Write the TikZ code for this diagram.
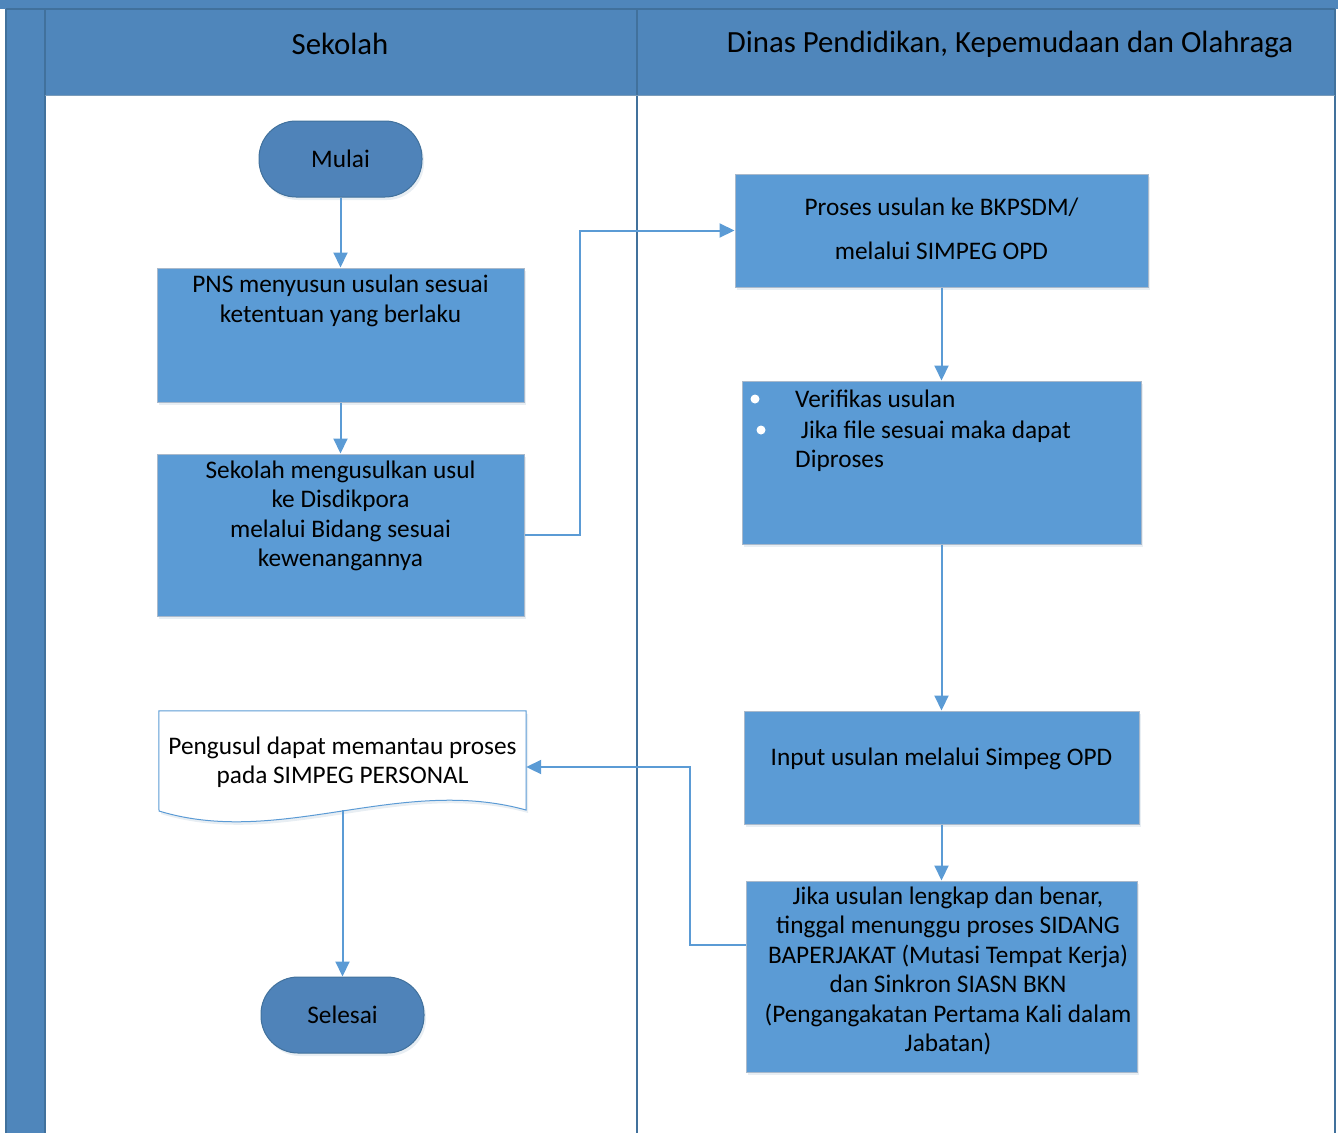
\documentclass[tikz,border=0pt]{standalone}
\usepackage{fontspec}
\setmainfont{Carlito}
\usetikzlibrary{arrows.meta,shadows}
\definecolor{hdr}{HTML}{4F86BB}
\definecolor{hdrline}{HTML}{41719C}
\definecolor{boxfill}{HTML}{5B9BD5}
\definecolor{boxline}{HTML}{A9B9CB}
\definecolor{termfill}{HTML}{4F83B9}
\definecolor{arr}{HTML}{5B9BD5}
\begin{document}
\begin{tikzpicture}[x=1pt,y=-1pt,
  shad/.style={drop shadow={shadow xshift=2pt,shadow yshift=-3pt,opacity=0.12,fill=hdrline}},
  procbox/.style={shad,draw=boxline,line width=1pt,fill=boxfill,inner sep=0pt},
  termbox/.style={shad,draw=hdrline,line width=1pt,fill=termfill,rounded corners=37pt,
                  minimum width=163pt,minimum height=76pt,inner sep=0pt,
                  font=\fontsize{25.3}{30}\selectfont},
  txt/.style={align=center,inner sep=0pt,font=\fontsize{25.3}{29.5}\selectfont},
  hdrtxt/.style={inner sep=0pt,font=\fontsize{30.8}{34}\selectfont},
  flow/.style={draw=arr,line width=2pt,-{Triangle[length=15pt,width=14pt]}}
]
\useasboundingbox (0,0) rectangle (1338,1133);
% pool / lanes
\fill[hdr] (0,0) rectangle (1338,9);
\fill[hdr] (6,9) rectangle (45,1133);
\fill[hdr] (45,9) rectangle (1335,95);
\draw[hdrline,line width=1.5pt] (6,9) -- (1335,9);
\draw[hdrline,line width=1.5pt] (6,9) -- (6,1133);
\draw[hdrline,line width=1.5pt] (45,9) -- (45,1133);
\draw[hdrline,line width=2pt] (637,9) -- (637,1133);
\draw[hdrline,line width=2pt] (1335,9) -- (1335,1133);
\draw[hdrline!70,line width=1pt] (45,95) -- (1335,95);
\node[hdrtxt] (lane1) at (340,44) {Sekolah};
\node[hdrtxt] (lane2) at (1010,44) {Dinas Pendidikan, Kepemudaan dan Olahraga};

% left lane
\node[termbox] (mulai) at (340.5,159) {Mulai};
\node[procbox,minimum width=367pt,minimum height=134pt] (pns) at (340.5,335) {};
\node[txt] (pnsT) at (340.5,301) {PNS menyusun usulan sesuai\\ketentuan yang berlaku};
\node[procbox,minimum width=367pt,minimum height=162pt] (sek) at (340.5,535) {};
\node[txt] (sekT) at (340.5,516) {Sekolah mengusulkan usul\\ke Disdikpora\\melalui Bidang sesuai\\kewenangannya};
\node[minimum width=367pt,minimum height=112pt,inner sep=0pt] (doc) at (342.5,767) {};
\draw[shad,draw=boxfill,line width=1pt,fill=white] (doc.north west) -- (doc.north east) -- (526,810)
  .. controls (400,775) and (280,848) .. (159,811) -- cycle;
\node[txt] (docT) at (342.5,762) {Pengusul dapat memantau proses\\pada SIMPEG PERSONAL};
\coordinate (docb) at (342.5,810);
\node[termbox] (selesai) at (342.5,1015) {Selesai};

% right lane
\node[procbox,minimum width=413pt,minimum height=113pt] (proses) at (941.5,230.5) {};
\node[txt] (prosesT) at (941.5,229) {Proses usulan ke BKPSDM/\\[15pt]melalui SIMPEG OPD};
\node[procbox,minimum width=399pt,minimum height=163pt] (verif) at (941.5,462.5) {};
\fill[white] (755,399) circle (4.5);
\fill[white] (761,430) circle (4.5);
\node[txt,anchor=base west] (v1) at (795,407) {Verifikas usulan};
\node[txt,anchor=base west] (v2) at (795,438) {\ Jika file sesuai maka dapat};
\node[txt,anchor=base west] (v3) at (795,467) {Diproses};
\node[procbox,minimum width=395pt,minimum height=113pt] (input) at (941.5,767.5) {};
\node[txt] (inputT) at (941.5,759) {Input usulan melalui Simpeg OPD};
\node[procbox,minimum width=391pt,minimum height=191pt] (jika) at (941.5,976.5) {};
\node[txt] (jikaT) at (948,971) {Jika usulan lengkap dan benar,\\tinggal menunggu proses SIDANG\\BAPERJAKAT (Mutasi Tempat Kerja)\\dan Sinkron SIASN BKN\\(Pengangakatan Pertama Kali dalam\\Jabatan)};

% connectors
\draw[flow] (mulai) -- (pns);
\draw[flow] (pns) -- (sek);
\draw[flow] (sek.east) -- ++(55,0) |- (proses.west);
\draw[flow] (proses) -- (verif);
\draw[flow] (verif) -- (input);
\draw[flow] (input) -- (jika);
\draw[flow] ([yshift=31.5pt]jika.west) -- ++(-56,0) |- (doc.east);
\draw[flow] (docb) -- (selesai.north);
\end{tikzpicture}
\end{document}
